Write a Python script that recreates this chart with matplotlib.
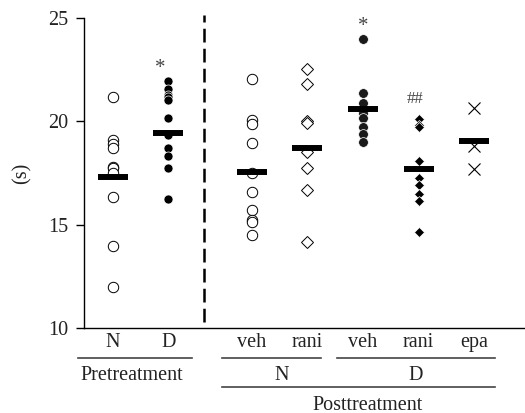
import matplotlib
matplotlib.use("Agg")
import matplotlib.pyplot as plt
import numpy as np

plt.rcParams['font.family'] = ['Liberation Serif', 'DejaVu Serif']

# ---- data ----
pre_N = [21.2, 19.1, 18.9, 18.7, 17.8, 17.75, 17.5, 16.35, 13.95, 11.97]
pre_D = [21.95, 21.55, 21.3, 21.2, 21.05, 20.15, 19.35, 18.7, 18.3, 17.75, 16.25]
post_N_veh = [22.04, 20.06, 19.87, 18.96, 17.48, 16.57, 15.69, 15.21, 15.13, 14.48]
post_N_rani = [22.55, 21.8, 20.0, 19.9, 18.5, 17.75, 16.7, 14.15]
post_D_veh = [24.0, 21.4, 20.9, 20.4, 20.15, 19.75, 19.4, 19.0]
post_D_rani = [20.1, 19.85, 19.75, 18.1, 17.25, 16.9, 16.5, 16.15, 14.65]
post_D_epa = [20.63, 18.8, 17.68]
mean_bars = [17.31, 19.45, 17.55, 18.72, 20.6, 17.68, 19.06]
group_labels = ["N", "D", "veh", "rani", "veh", "rani", "epa"]
group_pos = [1, 2, 3.5, 4.5, 5.5, 6.5, 7.5]
yticks = [10, 15, 20, 25]

FS = 14.5
W, H = 525, 413
fig = plt.figure(figsize=(W / 100, H / 100), dpi=100)
ax_left, ax_right, ax_top, ax_bot = 84, 525, 18.3, 327.7
ax = fig.add_axes([ax_left / W, (H - ax_bot) / H, (ax_right - ax_left) / W, (ax_bot - ax_top) / H])
ax.set_xlim(0.484, 8.415)
ax.set_ylim(10, 25)

series = [pre_N, pre_D, post_N_veh, post_N_rani, post_D_veh, post_D_rani, post_D_epa]
styles = [
    dict(marker='o', ms=7.5, mfc='white', mec='black', mew=0.7),
    dict(marker='o', ms=6.5, mfc='black', mec='white', mew=0.5),
    dict(marker='o', ms=7.5, mfc='white', mec='black', mew=0.7),
    dict(marker='D', ms=6, mfc='white', mec='black', mew=0.7),
    dict(marker='o', ms=7, mfc='#1a1a1a', mec='white', mew=0.5),
    dict(marker='D', ms=5, mfc='black', mec='white', mew=0.5),
    dict(marker='x', ms=8.5, mfc='none', mec='black', mew=0.8),
]
for x, vals, st in zip(group_pos, series, styles):
    ax.plot([x] * len(vals), vals, linestyle='none', zorder=3, **st)

for x, m in zip(group_pos, mean_bars):
    ax.plot([x - 0.27, x + 0.27], [m, m], color='black', lw=4.3, solid_capstyle='butt', zorder=4)

# significance marks
ax.text(1.86, 22.1, "*", ha='center', va='bottom', fontsize=15, color='#444444')
ax.text(5.5, 24.15, "*", ha='center', va='bottom', fontsize=15, color='#444444')
ax.text(6.43, 20.7, "##", ha='center', va='bottom', fontsize=12, color='#444444')

# dashed separator
ax.plot([2.64, 2.64], [10.3, 25.15], color='black', lw=1.8, dashes=(5.5, 2.5), clip_on=False)

ax.spines['top'].set_visible(False)
ax.spines['right'].set_visible(False)
ax.spines['left'].set_linewidth(1.0)
ax.spines['bottom'].set_linewidth(1.0)
ax.set_yticks(yticks)
ax.tick_params(axis='y', direction='out', length=6, width=1, labelsize=FS, pad=5, labelcolor='#222222')
ax.set_xticks(group_pos)
ax.set_xticklabels(group_labels)
ax.tick_params(axis='x', length=0, labelsize=FS, pad=4, labelcolor='#222222')
ax.set_ylabel("(s)", fontsize=FS, labelpad=12, color='#222222')

# group brackets below the axis
def yfrac(ypx):
    return (ax_bot - ypx) / (ax_bot - ax_top)

trans = ax.get_xaxis_transform()
lines = [(0.37, 2.42, 357.7), (2.97, 4.74, 357.7), (5.03, 7.88, 357.7), (2.97, 7.88, 386.7)]
for x0, x1, ypx in lines:
    ax.plot([x0, x1], [yfrac(ypx)] * 2, color='#444444', lw=1.2, transform=trans, clip_on=False)

ax.text(1.347, yfrac(375), "Pretreatment", ha='center', va='center', fontsize=FS, transform=trans, color='#222222')
ax.text(4.04, yfrac(375), "N", ha='center', va='center', fontsize=FS, transform=trans, color='#222222')
ax.text(6.455, yfrac(375), "D", ha='center', va='center', fontsize=FS, transform=trans, color='#222222')
ax.text(5.58, yfrac(405), "Posttreatment", ha='center', va='center', fontsize=FS, transform=trans, color='#222222')

fig.savefig("out.png", dpi=100)
